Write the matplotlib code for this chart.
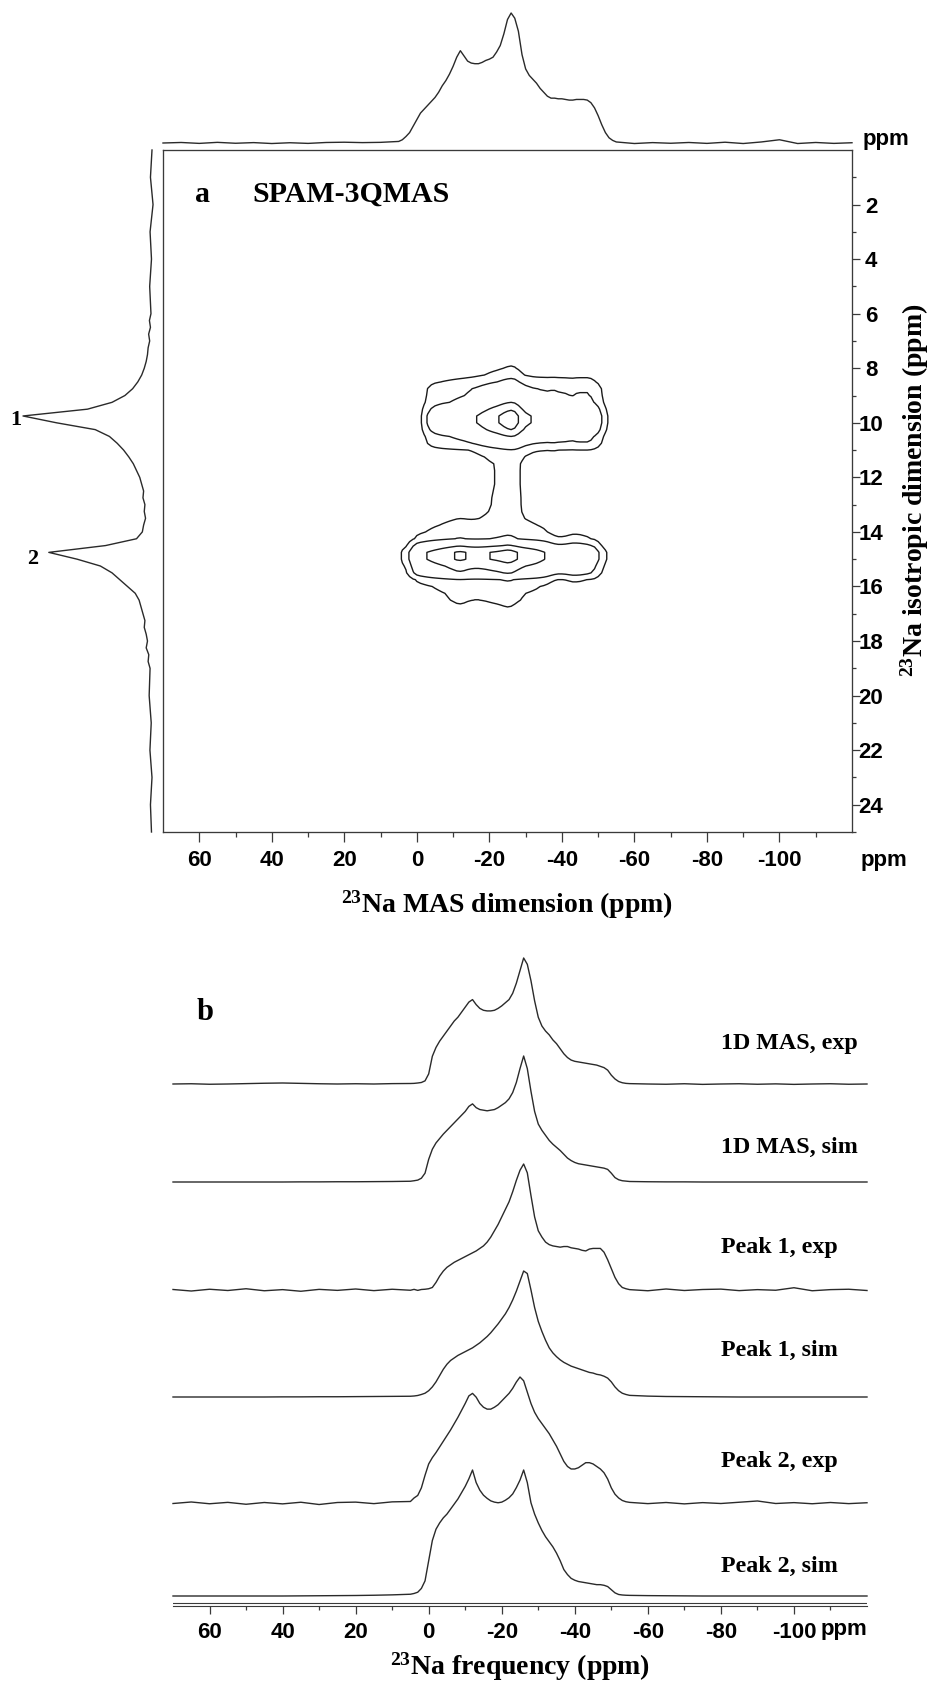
import numpy as np
import matplotlib
matplotlib.use("Agg")
import matplotlib.pyplot as plt
from matplotlib import font_manager

# ---------------------------------------------------------------- fonts
_names = {f.name for f in font_manager.fontManager.ttflist}
SANS = "Liberation Sans Narrow" if "Liberation Sans Narrow" in _names else "Liberation Sans"
SERIF = "Liberation Serif"
plt.rcParams.update({
    "axes.unicode_minus": False,
    "mathtext.fontset": "custom",
    "mathtext.rm": "Liberation Serif:bold",
    "mathtext.bf": "Liberation Serif:bold",
    "mathtext.it": "Liberation Serif:italic:bold",
})

# ---------------------------------------------------------------- axes grids (ppm)
MAS_PPM = np.concatenate([np.arange(70, 4, -5), np.arange(4, -55, -1), np.arange(-55, -121, -5)])
ISO_PPM = np.concatenate([np.arange(0, 6, 1.0), np.arange(6, 19.01, 0.25), np.arange(20, 25.5, 1.0)])

# ---------------------------------------------------------------- 1D MAS dimension spectra
# each: values on 70..5 (step 5), 4..-54 (step 1), -55..-120 (step 5)
MAS_EXP_LEFT = [0.0, 0.002, -0.002, 0.0, 0.003, 0.006, 0.008, 0.005, 0.002, 0.0, 0.002, 0.0, 0.003, 0.004]
MAS_EXP_CORE = [0.005, 0.008, 0.012, 0.025, 0.08,
                0.22, 0.29, 0.34, 0.38, 0.42, 0.46, 0.50, 0.53, 0.57, 0.61,
                0.65, 0.67, 0.63, 0.60, 0.585, 0.58, 0.58, 0.585, 0.60, 0.62,
                0.645, 0.67, 0.72, 0.80, 0.90, 1.0, 0.95, 0.82, 0.66, 0.53,
                0.46, 0.42, 0.39, 0.35, 0.32, 0.28, 0.24, 0.21, 0.19, 0.18,
                0.175, 0.17, 0.165, 0.16, 0.155, 0.15, 0.14, 0.13, 0.11, 0.07,
                0.04, 0.02, 0.01, 0.005]
MAS_EXP_RIGHT = [0.003, 0.0, -0.002, 0.002, -0.003, 0.0, 0.002, -0.002, 0.001, -0.003, 0.0, 0.002, -0.002, 0.0]

MAS_SIM_LEFT = [0, 0, 0, 0, 0, 0, 0, 0.001, 0.001, 0.002, 0.002, 0.003, 0.004, 0.006]
MAS_SIM_CORE = [0.01, 0.015, 0.03, 0.07, 0.18,
                0.26, 0.31, 0.345, 0.38, 0.41, 0.44, 0.47, 0.50, 0.53, 0.56,
                0.60, 0.62, 0.59, 0.575, 0.57, 0.565, 0.57, 0.575, 0.59, 0.61,
                0.63, 0.66, 0.71, 0.79, 0.90, 1.0, 0.90, 0.72, 0.56, 0.46,
                0.41, 0.37, 0.33, 0.30, 0.275, 0.25, 0.22, 0.19, 0.17, 0.155,
                0.145, 0.14, 0.135, 0.13, 0.125, 0.12, 0.115, 0.11, 0.10, 0.07,
                0.035, 0.018, 0.01, 0.007]
MAS_SIM_RIGHT = [0.004, 0.002, 0.001, 0.001, 0, 0, 0, 0, 0, 0, 0, 0, 0, 0]

PEAK1_EXP_LEFT = [0.004, -0.008, 0.006, -0.004, 0.01, -0.006, 0.003, -0.01, 0.005, -0.003, 0.008, -0.005, 0.006, -0.002]
PEAK1_EXP_CORE = [0.005, -0.003, 0.004, 0.006, 0.01,
                  0.02, 0.06, 0.11, 0.15, 0.18, 0.20, 0.22, 0.235, 0.25, 0.265,
                  0.28, 0.295, 0.31, 0.33, 0.35, 0.38, 0.42, 0.47, 0.52, 0.58,
                  0.64, 0.70, 0.78, 0.87, 0.95, 1.0, 0.93, 0.75, 0.58, 0.47,
                  0.42, 0.38, 0.36, 0.35, 0.345, 0.34, 0.345, 0.345, 0.335, 0.33,
                  0.325, 0.315, 0.31, 0.325, 0.33, 0.33, 0.33, 0.30, 0.24, 0.17,
                  0.10, 0.05, 0.02, 0.01]
PEAK1_EXP_RIGHT = [0.003, -0.006, 0.008, -0.004, 0.004, 0.007, -0.005, 0.003, -0.002, 0.018, -0.006, 0.003, 0.006, -0.004]

PEAK1_SIM_LEFT = [0, 0, 0, 0, 0, 0, 0.001, 0.001, 0.002, 0.002, 0.003, 0.004, 0.005, 0.006]
PEAK1_SIM_CORE = [0.008, 0.012, 0.02, 0.03, 0.05,
                  0.08, 0.12, 0.17, 0.22, 0.26, 0.29, 0.31, 0.33, 0.345, 0.36,
                  0.375, 0.39, 0.41, 0.43, 0.455, 0.48, 0.51, 0.545, 0.58, 0.62,
                  0.66, 0.71, 0.77, 0.84, 0.92, 1.0, 0.98, 0.85, 0.71, 0.60,
                  0.52, 0.45, 0.39, 0.35, 0.32, 0.295, 0.275, 0.26, 0.245, 0.235,
                  0.225, 0.215, 0.205, 0.195, 0.19, 0.18, 0.175, 0.165, 0.15, 0.12,
                  0.08, 0.05, 0.03, 0.02]
PEAK1_SIM_RIGHT = [0.013, 0.007, 0.004, 0.003, 0.002, 0.001, 0, 0, 0, 0, 0, 0, 0, 0]

PEAK2_EXP_LEFT = [-0.004, 0.008, -0.006, 0.005, -0.01, 0.004, -0.007, 0.006, -0.012, 0.004, 0.007, -0.005, 0.009, 0.012]
PEAK2_EXP_CORE = [0.04, 0.06, 0.12, 0.22, 0.31,
                  0.36, 0.40, 0.445, 0.49, 0.535, 0.58, 0.63, 0.68, 0.735, 0.79,
                  0.85, 0.87, 0.84, 0.79, 0.76, 0.745, 0.745, 0.76, 0.78, 0.81,
                  0.84, 0.87, 0.91, 0.96, 1.0, 0.97, 0.88, 0.79, 0.72, 0.67,
                  0.63, 0.59, 0.55, 0.50, 0.45, 0.39, 0.33, 0.29, 0.27, 0.27,
                  0.28, 0.30, 0.32, 0.32, 0.31, 0.29, 0.27, 0.24, 0.19, 0.12,
                  0.07, 0.04, 0.02, 0.01]
PEAK2_EXP_RIGHT = [0.005, -0.005, 0.004, -0.007, 0.003, -0.004, 0.006, 0.016, -0.004, 0.003, -0.006, 0.004, -0.005, 0.002]

PEAK2_SIM_LEFT = [0, 0, 0, 0, 0, 0, 0, 0.001, 0.002, 0.003, 0.004, 0.006, 0.009, 0.014]
PEAK2_SIM_CORE = [0.02, 0.03, 0.06, 0.12, 0.28,
                  0.44, 0.53, 0.58, 0.62, 0.65, 0.69, 0.73, 0.77, 0.82, 0.87,
                  0.93, 1.0, 0.90, 0.84, 0.80, 0.775, 0.755, 0.745, 0.74, 0.745,
                  0.76, 0.78, 0.81, 0.86, 0.92, 1.0, 0.90, 0.74, 0.65, 0.58,
                  0.52, 0.47, 0.43, 0.39, 0.34, 0.28, 0.21, 0.17, 0.14, 0.125,
                  0.115, 0.11, 0.105, 0.10, 0.095, 0.09, 0.09, 0.085, 0.075, 0.05,
                  0.025, 0.012, 0.008, 0.006]
PEAK2_SIM_RIGHT = [0.005, 0.003, 0.002, 0.001, 0, 0, 0, 0, 0, 0, 0, 0, 0, 0]

# F2 (MAS) projection of the 2D spectrum
PROJ_F2_LEFT = [0.0, 0.004, -0.003, 0.005, -0.002, 0.003, -0.004, 0.002, -0.003, 0.004, 0.006, 0.003, 0.005, 0.012]
PROJ_F2_CORE = [0.025, 0.05, 0.08, 0.13, 0.18,
                0.23, 0.26, 0.29, 0.32, 0.35, 0.39, 0.44, 0.48, 0.53, 0.59,
                0.66, 0.71, 0.67, 0.63, 0.615, 0.61, 0.61, 0.62, 0.635, 0.645,
                0.66, 0.70, 0.75, 0.84, 0.95, 1.0, 0.96, 0.86, 0.68, 0.57,
                0.52, 0.49, 0.46, 0.42, 0.39, 0.36, 0.345, 0.345, 0.34, 0.34,
                0.335, 0.33, 0.33, 0.335, 0.335, 0.335, 0.33, 0.31, 0.27, 0.21,
                0.14, 0.08, 0.04, 0.02]
PROJ_F2_RIGHT = [0.008, -0.004, 0.003, -0.002, 0.004, -0.003, 0.006, -0.004, 0.008, 0.025, -0.004, 0.004, -0.003, 0.002]

# ---------------------------------------------------------------- isotropic dimension
# values on 0..5 (step 1), 6..19 (step 0.25), 20..25 (step 1)
PROJ_F1 = [0.0, 0.012, -0.008, 0.015, 0.004, 0.018,
           0.008, 0.02, 0.012, 0.026, 0.018, 0.03, 0.035, 0.045, 0.06, 0.08, 0.11, 0.15,
           0.21, 0.31, 0.50, 1.0, 0.74, 0.44, 0.33, 0.27, 0.22, 0.18, 0.145, 0.12,
           0.095, 0.08, 0.065, 0.07, 0.055, 0.06, 0.05, 0.065, 0.075, 0.12, 0.36, 0.80,
           0.58, 0.40, 0.31, 0.25, 0.19, 0.13, 0.10, 0.085, 0.07, 0.055, 0.06, 0.045,
           0.035, 0.045, 0.025, 0.03, 0.015,
           0.022, 0.006, 0.016, 0.0, 0.012, 0.004]
ISO_SITE1 = [0, 0, 0, 0, 0, 0,
             0.0, 0.0, 0.002, 0.004, 0.006, 0.008, 0.011, 0.02, 0.035, 0.06, 0.14, 0.28,
             0.32, 0.40, 0.70, 1.0, 1.0, 0.75, 0.40, 0.28, 0.09, 0.06, 0.046, 0.045,
             0.045, 0.045, 0.044, 0.043, 0.041, 0.036, 0.026, 0.016, 0.008, 0.004, 0.002, 0.0,
             0, 0, 0, 0, 0, 0, 0, 0, 0, 0, 0, 0,
             0, 0, 0, 0, 0,
             0, 0, 0, 0, 0, 0]
ISO_SITE2 = [0, 0, 0, 0, 0, 0,
             0, 0, 0, 0, 0, 0, 0, 0, 0, 0, 0, 0,
             0, 0, 0, 0, 0, 0, 0, 0, 0, 0, 0, 0,
             0.0, 0.0, 0.002, 0.004, 0.006, 0.012, 0.025, 0.045, 0.07, 0.12, 0.42, 0.92,
             0.92, 0.60, 0.42, 0.11, 0.06, 0.045, 0.04, 0.03, 0.02, 0.012, 0.006, 0.003,
             0, 0, 0, 0, 0,
             0, 0, 0, 0, 0, 0]
CONTOUR_LEVELS = [0.03, 0.1, 0.4, 0.75]

TRACE_LABELS = ["1D MAS, exp", "1D MAS, sim", "Peak 1, exp", "Peak 1, sim", "Peak 2, exp", "Peak 2, sim"]
MAJOR_X = [60, 40, 20, 0, -20, -40, -60, -80, -100]
MINOR_X = [50, 30, 10, -10, -30, -50, -70, -90, -110]


def spectrum(left, core, right):
    return np.asarray(left + core + right, dtype=float)


MAS_EXP = spectrum(MAS_EXP_LEFT, MAS_EXP_CORE, MAS_EXP_RIGHT)
MAS_SIM = spectrum(MAS_SIM_LEFT, MAS_SIM_CORE, MAS_SIM_RIGHT)
PEAK1_EXP = spectrum(PEAK1_EXP_LEFT, PEAK1_EXP_CORE, PEAK1_EXP_RIGHT)
PEAK1_SIM = spectrum(PEAK1_SIM_LEFT, PEAK1_SIM_CORE, PEAK1_SIM_RIGHT)
PEAK2_EXP = spectrum(PEAK2_EXP_LEFT, PEAK2_EXP_CORE, PEAK2_EXP_RIGHT)
PEAK2_SIM = spectrum(PEAK2_SIM_LEFT, PEAK2_SIM_CORE, PEAK2_SIM_RIGHT)
PROJ_F2 = spectrum(PROJ_F2_LEFT, PROJ_F2_CORE, PROJ_F2_RIGHT)

# 2D SPAM-3QMAS map: each site is its isotropic profile times its MAS slice
Z = np.outer(ISO_SITE1, PEAK1_EXP) + np.outer(ISO_SITE2, PEAK2_EXP)

# ---------------------------------------------------------------- figure
W, H = 936, 1682
fig = plt.figure(figsize=(W / 100, H / 100), dpi=100)
fig.patch.set_facecolor("white")


def fx(px):
    return px / W


def fy(py):
    return 1 - py / H


LINE = "#2a2a2a"
SPINE = "#3a3a3a"
TICKFONT = dict(family=SANS, weight="bold", size=16)
SERIFB = dict(family=SERIF, weight="bold")

# ---- panel a, contour map
a_l, a_r, a_t, a_b = 163, 852, 150, 832
ax = fig.add_axes([fx(a_l), fy(a_b), (a_r - a_l) / W, (a_b - a_t) / H])
ax.contour(MAS_PPM[::-1], ISO_PPM, Z[:, ::-1], levels=CONTOUR_LEVELS,
           colors="#1a1a1a", linewidths=1.0)
ax.set_xlim(70, -120)
ax.set_ylim(25, 0)
for s in ax.spines.values():
    s.set_color(SPINE)
    s.set_linewidth(0.95)
ax.set_xticks(MAJOR_X)
ax.set_xticks(MINOR_X, minor=True)
ax.set_xticklabels([str(v) for v in MAJOR_X])
ax.set_yticks(list(range(2, 25, 2)))
ax.set_yticks(list(range(1, 26, 2)), minor=True)
ax.yaxis.tick_right()
ax.tick_params(axis="x", which="major", direction="out", length=7.2, width=0.9,
               color=SPINE, pad=6.0, top=False)
ax.tick_params(axis="x", which="minor", direction="out", length=3.6, width=0.9,
               color=SPINE, top=False)
ax.tick_params(axis="y", which="major", direction="out", length=5.8, width=0.9,
               color=SPINE, pad=7.9, left=False, right=True, labelleft=False, labelright=True)
ax.tick_params(axis="y", which="minor", direction="out", length=2.9, width=0.9,
               color=SPINE, left=False, right=True)
for lab in ax.get_xticklabels() + ax.get_yticklabels():
    lab.set_fontfamily(SANS)
    lab.set_fontweight("bold")
    lab.set_fontsize(16)
for lab in ax.get_yticklabels():
    lab.set_horizontalalignment("center")

# ---- F2 projection above the map
axt = fig.add_axes([fx(a_l), fy(143), (a_r - a_l) / W, (143 - 13) / H])
axt.plot(MAS_PPM, PROJ_F2, color=LINE, lw=1.0, clip_on=False)
axt.set_xlim(70, -120)
axt.set_ylim(0, 1)
axt.axis("off")

# ---- F1 projection left of the map
axl = fig.add_axes([fx(23), fy(a_b), (152 - 23) / W, (a_b - a_t) / H])
axl.plot(PROJ_F1, ISO_PPM, color=LINE, lw=1.0, clip_on=False)
axl.set_xlim(1, 0)
axl.set_ylim(25, 0)
axl.axis("off")

fig.text(fx(16), fy(420), "1", ha="center", va="center", size=16, **SERIFB)
fig.text(fx(33), fy(559), "2", ha="center", va="center", size=16, **SERIFB)
fig.text(fx(195), fy(202), "a", ha="left", va="baseline", size=21.5, **SERIFB)
fig.text(fx(252), fy(202), "SPAM-3QMAS", ha="left", va="baseline", size=21.5, **SERIFB)
fig.text(fx(886), fy(140), "ppm", ha="center", va="center", **TICKFONT)
fig.text(fx(884), fy(860), "ppm", ha="center", va="center", **TICKFONT)
fig.text(fx(507), fy(913), r"$^{23}$Na MAS dimension (ppm)", ha="center", va="baseline",
         size=20, **SERIFB)
fig.text(fx(915), fy(490), r"$^{23}$Na isotropic dimension (ppm)", ha="center", va="center",
         rotation=90, size=20, **SERIFB)

# ---- panel b, stacked 1D spectra (y axis in figure-pixel rows)
b_l, b_r, b_t, b_b = 173, 867, 900, 1606
axb = fig.add_axes([fx(b_l), fy(b_b), (b_r - b_l) / W, (b_b - b_t) / H])
axb.set_xlim(70, -120)
axb.set_ylim(b_b, b_t)
traces = [MAS_EXP, MAS_SIM, PEAK1_EXP, PEAK1_SIM, PEAK2_EXP, PEAK2_SIM]
baselines = [1084, 1182, 1290, 1397, 1503, 1596]
label_rows = [1043, 1147, 1247, 1350, 1462, 1566]
amp = 126
for vals, base, row, name in zip(traces, baselines, label_rows, TRACE_LABELS):
    axb.plot(MAS_PPM, base - amp * vals, color=LINE, lw=1.0, clip_on=False)
    fig.text(fx(721), fy(row), name, ha="left", va="center", size=17.3, **SERIFB)
axb.axhline(1602.5, color=SPINE, lw=0.8)
for side in ("top", "left", "right"):
    axb.spines[side].set_visible(False)
axb.spines["bottom"].set_color(SPINE)
axb.spines["bottom"].set_linewidth(0.8)
axb.set_yticks([])
axb.set_xticks(MAJOR_X)
axb.set_xticks(MINOR_X, minor=True)
axb.set_xticklabels([str(v) for v in MAJOR_X])
axb.tick_params(axis="x", which="major", direction="out", length=5.8, width=0.9,
                color=SPINE, pad=5.8)
axb.tick_params(axis="x", which="minor", direction="out", length=2.9, width=0.9, color=SPINE)
for lab in axb.get_xticklabels():
    lab.set_fontfamily(SANS)
    lab.set_fontweight("bold")
    lab.set_fontsize(16)

fig.text(fx(205), fy(1020), "b", ha="center", va="baseline", size=22, **SERIFB)
fig.text(fx(844), fy(1630), "ppm", ha="center", va="center", **TICKFONT)
fig.text(fx(520), fy(1675), r"$^{23}$Na frequency (ppm)", ha="center", va="baseline",
         size=20, **SERIFB)

fig.savefig("out.png", dpi=100, facecolor="white")
